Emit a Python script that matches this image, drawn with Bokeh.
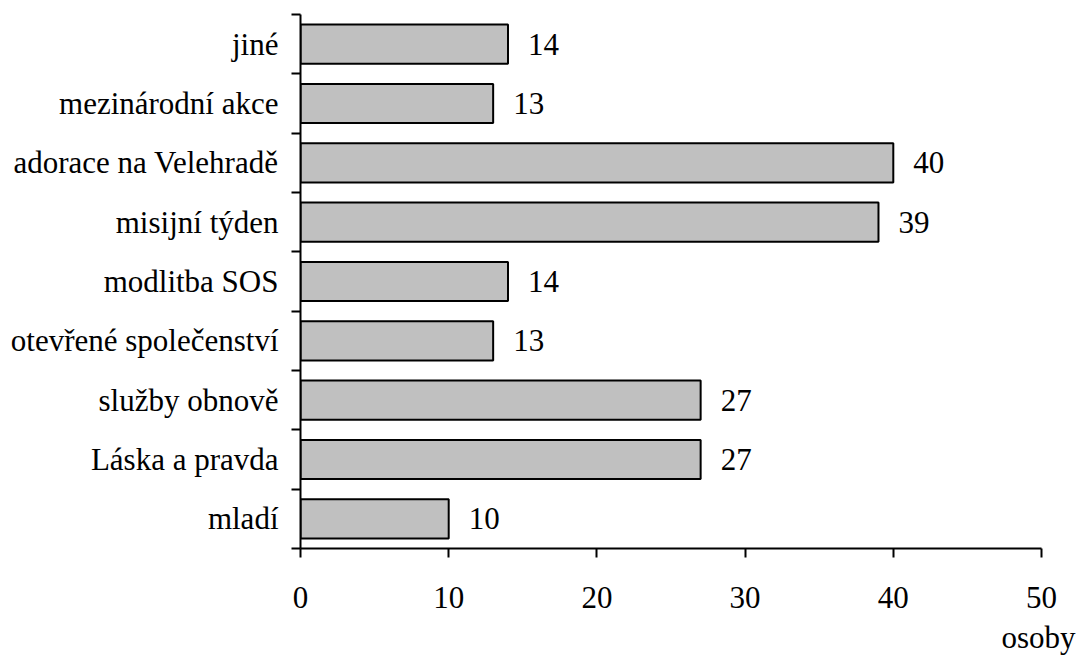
from bokeh.plotting import figure
from bokeh.models import ColumnDataSource, FixedTicker, Range1d, Title
from bokeh.core.properties import value
from bokeh.embed import file_html
from bokeh.resources import INLINE

categories = ["jiné", "mezinárodní akce", "adorace na Velehradě", "misijní týden",
              "modlitba SOS", "otevřené společenství", "služby obnově",
              "Láska a pravda", "mladí"]
values = [14, 13, 40, 39, 14, 13, 27, 27, 10]
x_ticks = [0, 10, 20, 30, 40, 50]
x_label = "osoby"

FONT = "'Liberation Serif'"
FS = "31px"
n = len(categories)
ypos = [n - i - 0.5 for i in range(n)]

src = ColumnDataSource(dict(cat=categories, val=values, y=ypos,
                            lab=[str(v) for v in values]))

p = figure(width=1083, height=668, output_backend="svg", toolbar_location=None,
           x_range=Range1d(0, 50), y_range=Range1d(0, n),
           min_border_left=300, min_border_right=42, min_border_top=14,
           min_border_bottom=120, background_fill_color="white",
           border_fill_color="white", outline_line_color=None)
p.grid.visible = False

p.hbar(y="y", right="val", left=0, height=0.66, source=src,
       fill_color="#c0c0c0", line_color="black", line_width=2)
p.text(x="val", y="y", text="lab", source=src, x_offset=20,
       text_baseline="middle", text_align="left",
       text_font=value(FONT), text_font_size=FS, text_color="black")

xa = p.xaxis[0]
xa.ticker = FixedTicker(ticks=x_ticks, minor_ticks=[])
xa.axis_line_width = 2
xa.axis_line_color = "black"
xa.major_tick_out = 9
xa.major_tick_in = 0
xa.major_tick_line_width = 2
xa.minor_tick_line_color = None
xa.major_label_standoff = 29
xa.major_label_text_font = FONT
xa.major_label_text_font_size = FS
xa.major_label_text_color = "black"

ya = p.yaxis[0]
ya.ticker = FixedTicker(ticks=ypos, minor_ticks=list(range(n + 1)))
ya.major_label_overrides = {y: c for y, c in zip(ypos, categories)}
ya.axis_line_width = 2
ya.axis_line_color = "black"
ya.major_tick_line_color = None
ya.major_tick_out = 0
ya.major_tick_in = 0
ya.minor_tick_out = 9
ya.minor_tick_in = 0
ya.minor_tick_line_width = 2
ya.minor_tick_line_color = "black"
ya.major_label_standoff = 13
ya.major_label_text_font = FONT
ya.major_label_text_font_size = FS
ya.major_label_text_color = "black"

p.add_layout(Title(text=" ", text_font_size="4px", standoff=0), "below")
p.add_layout(Title(text=x_label, align="right", offset=-34,
                   text_font=FONT, text_font_size=FS, text_font_style="normal",
                   text_color="black", standoff=0), "below")

open("out.html", "w").write(file_html(p, INLINE))
